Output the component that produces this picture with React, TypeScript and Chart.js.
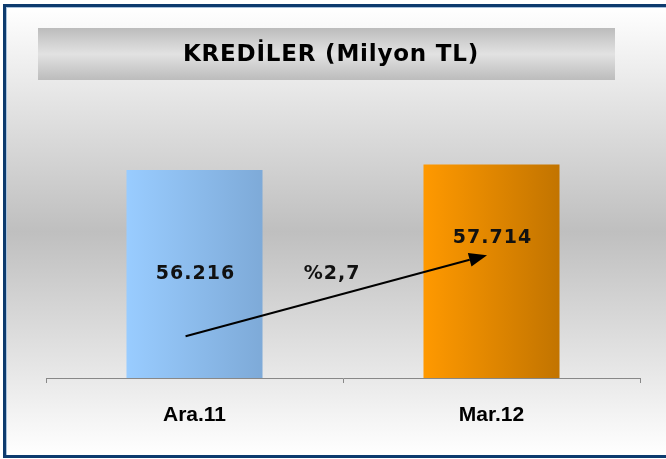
import { useEffect, useRef } from "react";
import { Chart, registerables } from "chart.js";
Chart.register(...registerables);

const categories = ["Ara.11", "Mar.12"];
const values = [56216, 57714];
const valueLabels = ["56.216", "57.714"];
const labelHeightFractions = [0.5, 0.655];
const changeLabel = "%2,7";
const changePos = [0.463, 28100];
const arrowFrom = [-0.03, 11300];
const arrowTo = [0.985, 33200];
const titleText = "KREDİLER (Milyon TL)";
const yMax = 70000;
const barColorsLeft = ["#99ccff", "#ff9900"];
const barColorsRight = ["#7eaad8", "#c27400"];
const barPct = 0.458;

const decorPlugin = {
  id: "decor",
  beforeDraw(chart: any) {
    const c = chart.ctx;
    const W = chart.width;
    const H = chart.height;
    c.save();
    c.fillStyle = "#ffffff";
    c.fillRect(0, 0, W, H);
    const g = c.createLinearGradient(0, 7, 0, 456);
    g.addColorStop(0, "#ffffff");
    g.addColorStop(0.5, "#bfbfbf");
    g.addColorStop(1, "#ffffff");
    c.fillStyle = g;
    c.fillRect(6, 7, W - 6, 449);
    c.fillStyle = "#0d3b6e";
    c.fillRect(3, 4, W - 3, 3);
    c.fillRect(3, 4, 3, 454);
    c.fillRect(3, 455, W - 3, 3);
    c.fillStyle = "#a9c2dc";
    c.fillRect(6, 7, W - 6, 1);
    c.fillRect(6, 7, 1, 448);
    const tg = c.createLinearGradient(0, 28, 0, 80);
    tg.addColorStop(0, "#bcbcbc");
    tg.addColorStop(0.5, "#e2e2e2");
    tg.addColorStop(1, "#bcbcbc");
    c.fillStyle = tg;
    c.fillRect(38, 28, 577, 52);
    c.fillStyle = "#000000";
    c.font = 'bold 23px "DejaVu Sans"';
    (c as any).letterSpacing = "0.8px";
    c.textAlign = "center";
    c.textBaseline = "middle";
    c.fillText(titleText, 331, 55);
    c.restore();
  },
  afterDatasetsDraw(chart: any) {
    const c = chart.ctx;
    const xs = chart.scales.x;
    const ys = chart.scales.y;
    c.save();
    c.fillStyle = "#111111";
    c.font = 'bold 19px "DejaVu Sans"';
    (c as any).letterSpacing = "1px";
    c.textAlign = "center";
    c.textBaseline = "middle";
    values.forEach((v, i) => {
      c.fillText(valueLabels[i], xs.getPixelForValue(i) + 1, ys.getPixelForValue(v * labelHeightFractions[i]));
    });
    c.fillText(changeLabel, xs.getPixelForValue(changePos[0]), ys.getPixelForValue(changePos[1]));
    const x1 = xs.getPixelForValue(arrowFrom[0]);
    const y1 = ys.getPixelForValue(arrowFrom[1]);
    const x2 = xs.getPixelForValue(arrowTo[0]);
    const y2 = ys.getPixelForValue(arrowTo[1]);
    const ang = Math.atan2(y2 - y1, x2 - x1);
    const headLen = 18;
    const headHalf = 7;
    const bx = x2 - headLen * Math.cos(ang);
    const by = y2 - headLen * Math.sin(ang);
    c.strokeStyle = "#000000";
    c.lineWidth = 2;
    c.beginPath();
    c.moveTo(x1, y1);
    c.lineTo(bx, by);
    c.stroke();
    c.fillStyle = "#000000";
    c.beginPath();
    c.moveTo(x2, y2);
    c.lineTo(bx + headHalf * Math.sin(ang), by - headHalf * Math.cos(ang));
    c.lineTo(bx - headHalf * Math.sin(ang), by + headHalf * Math.cos(ang));
    c.closePath();
    c.fill();
    c.restore();
  },
};

export default function App() {
  const ref = useRef<HTMLCanvasElement | null>(null);
  useEffect(() => {
    document.body.style.margin = "0";
    const canvas = ref.current;
    if (!canvas) return;
    const chart = new Chart(canvas, {
      type: "bar",
      data: {
        labels: categories,
        datasets: [
          {
            data: values,
            categoryPercentage: 1,
            barPercentage: barPct,
            borderWidth: 0,
            backgroundColor: (ctx: any) => {
              const ch = ctx.chart;
              const xs = ch.scales && ch.scales.x;
              const i = ctx.dataIndex ?? 0;
              if (!xs || ctx.type !== "data") return barColorsLeft[i];
              const cx = xs.getPixelForValue(i);
              const half = (xs.width / categories.length) * barPct / 2;
              if (!isFinite(cx) || !isFinite(half) || half <= 0) return barColorsLeft[i];
              const g = ch.ctx.createLinearGradient(cx - half, 0, cx + half, 0);
              g.addColorStop(0, barColorsLeft[i]);
              g.addColorStop(1, barColorsRight[i]);
              return g;
            },
          },
        ],
      },
      options: {
        responsive: false,
        animation: false,
        devicePixelRatio: 1,
        layout: { padding: { top: 119, left: 46, right: 26, bottom: 0 } },
        plugins: { legend: { display: false }, tooltip: { enabled: false }, title: { display: false } },
        scales: {
          y: { display: false, min: 0, max: yMax },
          x: {
            afterFit: (s: any) => {
              s.height = 81;
            },
            grid: { display: true, drawOnChartArea: false, tickLength: 5, color: "#888888", offset: true },
            border: { display: true, color: "#888888", width: 1 },
            ticks: {
              color: "#000000",
              padding: 20,
              font: { family: '"Liberation Sans", Arial, sans-serif', size: 21, weight: "bold" },
            },
          },
        },
      },
      plugins: [decorPlugin],
    });
    return () => chart.destroy();
  }, []);
  return (
    <div style={{ position: "fixed", left: 0, top: 0, width: 666, height: 459 }}>
      <canvas ref={ref} width={666} height={459} style={{ display: "block", width: 666, height: 459 }} />
    </div>
  );
}
